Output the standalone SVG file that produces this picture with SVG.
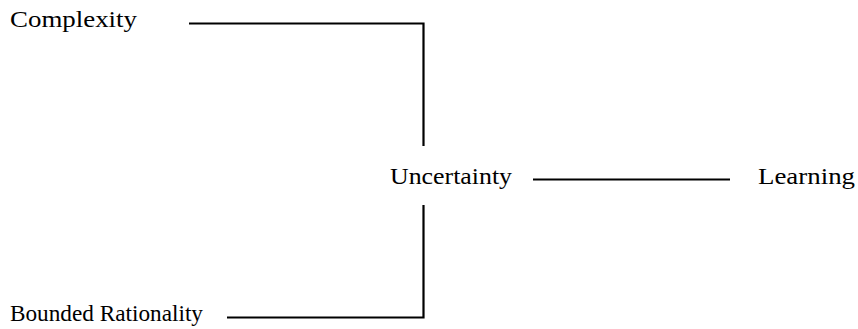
<svg xmlns="http://www.w3.org/2000/svg" width="858" height="329" viewBox="0 0 858 329">
<style>
text{font-family:'Liberation Serif','Times New Roman',Times,serif;font-size:23px;fill:#000}
.c{stroke:#000;stroke-width:2.2;fill:none}
</style>
<rect width="858" height="329" fill="#fff"/>
<g id="connectors">
<polyline class="c" points="189,23.5 423.5,23.5 423.5,146"/>
<polyline class="c" points="227,317.5 423.5,317.5 423.5,205"/>
<line class="c" x1="533" y1="179.5" x2="730" y2="179.5"/>
</g>
<g id="complexity"><text x="10" y="27" textLength="127" lengthAdjust="spacingAndGlyphs">Complexity</text></g>
<g id="uncertainty"><text x="390" y="184" textLength="122" lengthAdjust="spacingAndGlyphs">Uncertainty</text></g>
<g id="learning"><text x="758" y="184" textLength="97" lengthAdjust="spacingAndGlyphs">Learning</text></g>
<g id="bounded-rationality"><text x="10" y="321" textLength="193" lengthAdjust="spacingAndGlyphs">Bounded Rationality</text></g>
</svg>
